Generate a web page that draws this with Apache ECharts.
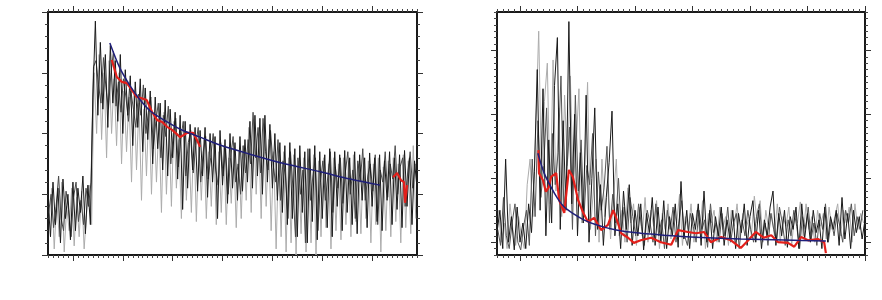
<!DOCTYPE html>
<html><head><meta charset="utf-8">
<script src="https://cdn.jsdelivr.net/npm/echarts@6/dist/echarts.min.js"></script>
<style>html,body{margin:0;padding:0;background:#fff}#c{width:882px;height:300px}</style>
</head><body><div id="c"></div><script>
// ---------- Left panel data ----------
const leftBlackStart = 0.5, leftBlackStep = 0.05;
const leftBlack = [
0.9,0.3,1.2,0.5,1.1,0.2,1.25,0.6,1.0,0.25,
1.2,0.4,1.1,0.7,1.3,0.35,1.15,0.5,2.6,3.85,
2.3,3.5,2.4,3.3,2.1,3.45,2.5,3.2,2.2,3.3,
2.0,3.05,2.3,2.95,1.8,2.85,2.1,2.9,1.7,2.75,
1.9,2.7,1.5,2.6,1.75,2.5,1.4,2.55,1.3,2.4,
1.6,2.35,1.25,2.3,0.75,2.2,1.1,2.15,1.4,2.1,
1.05,2.05,1.3,2.1,0.95,2.0,1.2,1.95,0.6,2.05,
1.15,1.9,0.85,2.0,1.1,1.85,0.9,1.95,1.05,1.9,
1.2,2.2,1.1,2.3,1.3,2.25,1.0,2.3,1.2,2.15,
1.1,2.0,0.9,1.85,0.7,1.8,0.5,1.85,0.6,1.75,
0.3,1.8,0.7,1.7,0.2,1.75,0.55,1.8,0.25,1.7,
0.6,1.65,0.45,1.75,0.3,1.7,0.8,1.65,0.4,1.72,
0.7,1.6,0.5,1.7,0.35,1.65,0.9,1.6,0.45,1.68,
0.8,1.6,0.55,1.65,0.4,1.55,0.9,1.7,0.5,1.6,
0.75,1.65,0.45,1.72,0.8,1.6,0.5,1.55,1.1];
const leftDarkStart = 0.5125, leftDarkStep = 0.05;
const leftDark = [
0.7,1.0,0.45,0.8,1.3,0.6,0.4,1.05,0.75,0.3,
0.95,1.2,0.55,0.9,0.5,1.1,0.8,1.2,3.1,3.2,
2.8,2.5,3.25,2.75,2.4,3.0,3.35,2.45,2.85,2.35,
2.9,2.6,2.2,2.7,2.4,2.1,2.65,2.3,2.8,2.0,
2.35,2.6,1.75,2.2,2.5,1.6,2.3,1.95,2.45,1.5,
2.0,2.25,1.45,1.9,2.2,1.3,1.85,2.05,1.35,1.8,
2.1,1.2,1.7,1.95,1.25,1.6,2.0,1.4,1.15,1.85,
1.3,1.75,1.0,1.6,1.95,1.2,1.5,1.0,1.8,1.35,
1.9,1.5,2.35,1.6,2.1,1.35,2.25,1.7,1.4,2.05,
1.5,1.2,1.9,0.9,1.55,1.3,0.6,1.7,1.1,0.3,
1.6,1.0,1.4,0.2,1.75,0.9,1.3,1.6,0.4,1.2,
1.55,0.9,1.3,1.7,0.7,1.45,1.1,1.6,0.85,1.35,
1.7,1.0,1.4,0.6,1.55,1.2,1.75,0.9,1.3,1.5,
1.05,1.65,0.5,1.4,1.2,1.7,0.95,1.5,1.25,1.8,
1.0,1.45,1.6,0.8,1.35,1.7,1.1,1.5];
const leftGrayStart = 0.525, leftGrayStep = 0.05;
const leftGray = [
0.6,1.1,0.1,0.9,0.3,1.2,0.05,0.8,0.4,1.1,
0.15,0.95,0.3,1.05,0.1,0.7,1.15,0.5,3.0,2.0,
3.3,1.9,3.0,1.6,3.2,2.0,2.9,1.8,3.0,1.5,
2.7,1.7,2.6,1.2,2.7,1.4,2.5,0.9,2.4,1.3,
2.5,1.0,2.3,1.2,2.2,0.7,2.35,1.0,2.1,0.8,
2.2,1.1,1.9,0.6,2.0,0.9,1.85,0.7,2.0,0.55,
1.8,0.9,1.9,0.6,1.7,0.8,1.85,0.5,1.7,0.7,
1.8,0.5,1.6,0.85,1.75,0.45,1.7,0.6,1.8,0.9,
2.1,0.7,2.2,1.0,2.0,0.6,2.15,0.8,1.9,0.4,
1.7,0.1,1.65,0.3,1.7,0.05,1.6,0.2,1.65,0.0,
1.55,0.35,1.6,0.05,1.5,0.2,1.65,0.0,1.55,0.3,
1.6,0.45,1.5,0.1,1.6,0.4,1.5,0.25,1.6,0.5,
1.55,0.3,1.65,0.55,1.5,0.35,1.6,0.6,1.55,0.2,
1.5,0.5,1.6,0.05,1.45,0.4,1.55,0.3,1.6,0.55,
1.5,0.2,1.65,0.45,1.55,0.35,1.8,0.6];
const leftRedX = [1.78,1.88,1.98,2.08,2.18,2.28,2.38,2.48,2.59,2.69,2.79,2.89,2.99,3.15,3.23,3.29,3.41,3.49,3.55,5.5,7.42,7.50,7.58,7.64,7.66,7.70];
const leftRedY = [3.21,2.93,2.85,2.83,2.72,2.60,2.58,2.55,2.35,2.22,2.19,2.11,2.06,1.94,1.98,2.01,2.01,1.89,1.78,null,1.28,1.35,1.23,1.20,0.86,1.15];
const leftFitX = [1.74,1.94,2.15,2.35,2.55,2.85,3.15,3.55,3.95,4.55,5.21,5.96,6.56,7.16];
const leftFitY = [3.49,3.08,2.78,2.55,2.37,2.21,2.07,1.94,1.81,1.66,1.51,1.37,1.25,1.15];
const leftXMajor = [1,2,3,4,5,6,7];
const leftYMajor = [0,1,2,3,4];

// ---------- Right panel data ----------
const rightBlackStart = -0.4, rightBlackStep = 0.05;
const rightBlack = [
0.15,0.5,-0.1,1.3,0.0,0.4,-0.12,0.55,0.0,0.3,
-0.1,0.6,0.15,1.1,2.7,0.5,2.4,0.1,1.6,0.3,
2.45,3.2,0.2,1.9,0.5,3.45,0.6,2.0,0.1,1.4,
0.3,2.3,0.0,1.0,2.1,0.2,0.9,-0.05,0.7,1.25,
2.05,0.1,0.6,-0.1,0.8,0.2,0.9,-0.05,0.5,0.1,
0.6,-0.12,0.45,0.15,0.7,-0.05,0.55,0.0,0.65,-0.1,
0.4,0.1,0.6,-0.08,0.95,0.05,0.5,-0.1,0.45,0.2,
0.6,-0.05,0.8,0.0,0.5,-0.1,0.4,0.1,0.55,-0.05,
0.35,0.05,0.5,-0.1,0.45,0.15,0.6,-0.05,0.4,0.65,
0.0,0.5,-0.1,0.35,0.1,0.55,0.8,-0.05,0.45,0.1,
0.5,-0.08,0.4,0.2,0.55,-0.1,0.6,0.05,0.45,0.0,
0.5,0.15,0.35,-0.1,0.55,0.0,0.4,0.2,0.5,-0.05,
0.7,0.05,0.45,-0.1,0.5,0.15,0.4,0.05,0.35];
const rightDarkStart = -0.3875, rightDarkStep = 0.05;
const rightDark = [
0.2,-0.05,0.7,0.1,-0.1,0.3,0.6,0.0,-0.12,0.25,
0.5,-0.05,1.3,0.4,1.9,0.7,1.2,2.1,0.3,1.7,
0.9,1.4,2.6,0.5,1.1,1.8,0.2,2.3,0.8,1.6,
0.4,1.2,0.9,1.7,0.1,1.1,0.5,0.85,1.5,0.2,
0.75,0.3,1.0,0.15,0.55,0.0,0.7,0.4,0.1,0.6,
0.25,-0.05,0.5,0.3,0.0,0.6,0.1,0.35,-0.1,0.5,
0.2,0.55,0.0,0.3,0.65,0.1,-0.05,0.45,0.25,0.0,
0.5,0.2,0.35,-0.08,0.6,0.15,0.3,0.0,0.45,0.1,
0.55,0.0,0.3,0.45,-0.1,0.35,0.1,0.5,0.2,0.0,
0.4,0.6,0.05,0.3,-0.05,0.45,0.2,0.0,0.55,0.3,
-0.05,0.35,0.1,0.5,0.25,-0.1,0.4,0.2,0.55,0.05,
0.3,-0.05,0.45,0.2,0.6,0.0,0.35,0.1,0.45,0.25,
0.0,0.5,0.3,0.6,0.1,0.4,0.2,0.5];
const rightGrayStart = -0.375, rightGrayStep = 0.05;
const rightGray = [
0.5,0.0,0.3,-0.1,0.6,0.2,-0.05,0.4,0.1,-0.1,
0.9,1.3,0.4,1.8,3.3,1.0,2.2,2.8,0.6,2.85,
0.8,2.1,0.4,2.3,1.2,2.6,0.9,1.5,2.4,0.3,
1.1,2.5,0.2,0.8,1.3,0.0,1.3,0.4,0.9,0.05,
0.7,1.3,0.1,0.5,0.0,0.85,0.3,0.6,-0.05,0.55,
0.1,0.7,0.0,0.5,0.25,0.65,-0.1,0.45,0.2,0.6,
0.05,0.5,0.3,0.75,-0.05,0.4,0.2,0.6,0.0,0.5,
0.15,0.65,-0.1,0.45,0.3,0.5,0.0,0.55,0.2,0.4,
-0.05,0.5,0.25,0.6,0.05,0.45,0.2,0.35,0.1,0.72,
0.3,0.65,0.0,0.5,0.2,0.45,0.1,0.6,0.0,0.4,
0.25,0.55,-0.05,0.45,0.3,0.63,0.1,0.6,0.2,0.4,
0.0,0.5,0.25,0.45,0.05,0.55,0.2,0.4,0.6,0.1,
0.5,0.3,0.55,0.0,0.6,0.2,0.45,0.3];
const rightRedX = [0.32,0.33,0.40,0.45,0.50,0.54,0.63,0.68,0.77,0.85,0.92,1.01,1.10,1.18,1.29,1.41,1.53,1.62,1.67,1.76,1.88,1.98,2.10,2.28,2.45,2.63,2.75,2.92,3.06,3.20,3.32,3.50,3.67,3.84,3.97,4.10,4.24,4.37,4.49,4.66,4.77,4.89,5.01,5.18,5.29,5.32];
const rightRedY = [1.44,1.08,0.97,0.79,0.86,1.02,1.08,0.66,0.46,1.13,1.02,0.66,0.46,0.32,0.38,0.19,0.27,0.50,0.39,0.14,0.07,-0.01,0.03,0.07,0.00,-0.04,0.19,0.16,0.14,0.16,0.00,0.08,0.03,-0.09,0.03,0.16,0.07,0.11,0.00,-0.01,-0.07,0.08,0.03,0.05,0.00,-0.17];
const rightFitX = [0.31,0.42,0.54,0.65,0.77,0.94,1.11,1.30,1.53,1.80,2.10,2.50,2.97,3.84,4.60,5.32];
const rightFitY = [1.39,1.08,0.86,0.69,0.55,0.44,0.35,0.28,0.22,0.17,0.14,0.11,0.08,0.05,0.035,0.02];
const rightXMajor = [0,1,2,3,4,5,6];
const rightYMajor = [0,1,2,3];

// ---------- helpers ----------
function sampled(start, step, vals){ return vals.map((v,i)=>[+(start+i*step).toFixed(4), v]); }
function pairs(xs, ys){ return xs.map((x,i)=>[x, ys[i]]); }
const frameColor = '#1a1a1a';
function axisPair(grid, pos, min, max, minorInt, majors){
  const base = {type:'value', gridIndex:grid, position:pos, min:min, max:max,
    axisLabel:{show:false}, splitLine:{show:false}, axisPointer:{show:false}};
  const minor = Object.assign({}, base, {interval:minorInt,
    axisLine:{show:true,onZero:false,lineStyle:{color:frameColor,width:2}},
    axisTick:{show:true,inside:false,length:3,lineStyle:{color:'#444',width:1}}});
  const major = Object.assign({}, base, {
    axisLine:{show:false,onZero:false},
    axisTick:{show:true,inside:false,length:6,customValues:majors,lineStyle:{color:'#333',width:1}}});
  return [minor, major];
}
const xAxes = [].concat(
  axisPair(0,'bottom',0.5,7.9,0.1,leftXMajor),
  axisPair(0,'top',0.5,7.9,0.1,leftXMajor),
  axisPair(1,'bottom',-0.4,6,0.1,rightXMajor),
  axisPair(1,'top',-0.4,6,0.1,rightXMajor));
const yAxes = [].concat(
  axisPair(0,'left',0,4,0.2,leftYMajor),
  axisPair(0,'right',0,4,0.2,leftYMajor),
  axisPair(1,'left',-0.2,3.6,0.1,rightYMajor),
  axisPair(1,'right',-0.2,3.6,0.1,rightYMajor));

function lineSeries(xi, yi, data, color, width, extra){
  return Object.assign({type:'line', xAxisIndex:xi, yAxisIndex:yi, data:data, showSymbol:false, symbol:'none',
    lineStyle:{color:color,width:width}, silent:true, connectNulls:false}, extra||{});
}

const chart = echarts.init(document.getElementById('c'), null, {renderer:'canvas'});
chart.setOption({
  animation:false,
  backgroundColor:'#fff',
  grid:[{left:48,top:12,width:369,height:243},{left:497,top:12,width:368,height:243}],
  xAxis:xAxes,
  yAxis:yAxes,
  series:[
    lineSeries(0,0,sampled(leftGrayStart,leftGrayStep,leftGray),'#acacac',1),
    lineSeries(0,0,sampled(leftDarkStart,leftDarkStep,leftDark),'#4a4a4a',1),
    lineSeries(0,0,sampled(leftBlackStart,leftBlackStep,leftBlack),'#1a1a1a',1),
    lineSeries(0,0,pairs(leftRedX,leftRedY),'#e3201b',2.2),
    lineSeries(0,0,pairs(leftFitX,leftFitY),'#1f1f7a',1.5,{smooth:0.3}),
    lineSeries(4,4,sampled(rightGrayStart,rightGrayStep,rightGray),'#acacac',1),
    lineSeries(4,4,sampled(rightDarkStart,rightDarkStep,rightDark),'#555555',1),
    lineSeries(4,4,sampled(rightBlackStart,rightBlackStep,rightBlack),'#1a1a1a',1),
    lineSeries(4,4,pairs(rightRedX,rightRedY),'#e3201b',2.2),
    lineSeries(4,4,pairs(rightFitX,rightFitY),'#1f1f7a',1.5,{smooth:0.3})
  ]
});
</script></body></html>
